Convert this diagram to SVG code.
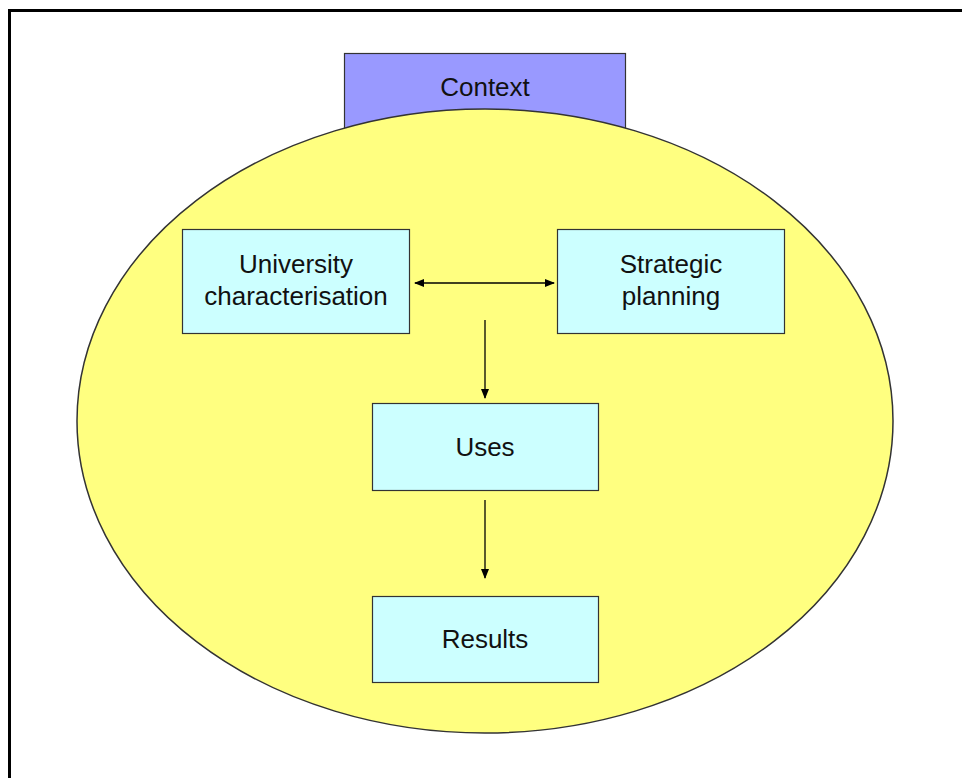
<svg xmlns="http://www.w3.org/2000/svg" width="962" height="778" viewBox="0 0 962 778">
<style>
.box{fill:#CCFFFF;stroke:#333;stroke-width:1.2}
.t{font-family:"Liberation Sans",Arial,sans-serif;font-size:26px;fill:#111;text-anchor:middle}
.c{stroke:#000;stroke-width:1.3;fill:none}
</style>
<defs>
<marker id="ah" markerWidth="10" markerHeight="8" refX="9" refY="4" orient="auto-start-reverse" markerUnits="userSpaceOnUse">
<path d="M0,0 L10,4 L0,8 Z" fill="#000"/>
</marker>
</defs>
<rect width="962" height="778" fill="#fff"/>
<path d="M9.5,778 V10.5 H962" fill="none" stroke="#000" stroke-width="3"/>
<g id="context">
<rect x="344.5" y="53.5" width="281" height="100" fill="#9999FF" stroke="#333" stroke-width="1.2"/>
<text class="t" x="485" y="96">Context</text>
</g>
<g id="ellipse">
<ellipse cx="485" cy="421" rx="408" ry="312" fill="#FFFF80" stroke="#333" stroke-width="1.5"/>
</g>
<g id="university">
<rect class="box" x="182.5" y="229.5" width="227" height="104"/>
<text class="t" x="296" y="273">University</text>
<text class="t" x="296" y="305">characterisation</text>
</g>
<g id="strategic">
<rect class="box" x="557.5" y="229.5" width="227" height="104"/>
<text class="t" x="671" y="273">Strategic</text>
<text class="t" x="671" y="305">planning</text>
</g>
<g id="uses">
<rect class="box" x="372.5" y="403.5" width="226" height="87"/>
<text class="t" x="485" y="456">Uses</text>
</g>
<g id="results">
<rect class="box" x="372.5" y="596.5" width="226" height="86"/>
<text class="t" x="485" y="648">Results</text>
</g>
<g id="connectors">
<line class="c" x1="415" y1="283" x2="554" y2="283" marker-start="url(#ah)" marker-end="url(#ah)"/>
<line class="c" x1="485" y1="320" x2="485" y2="398" marker-end="url(#ah)"/>
<line class="c" x1="485" y1="500" x2="485" y2="578" marker-end="url(#ah)"/>
</g>
</svg>
